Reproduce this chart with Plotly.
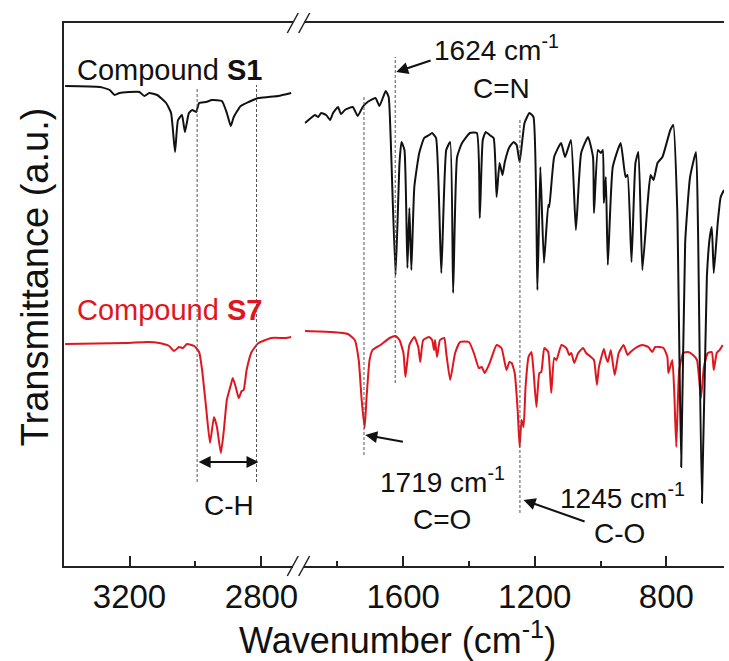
import plotly.graph_objects as go

# ---------------- data (wavenumber cm-1, transmittance a.u. incl. offset) ----------------
s1_left_wn = [3395, 3290, 3260, 3245, 3230, 3170, 3155, 3140, 3116, 3089, 3074, 3062, 3053, 3041,
              3032, 3020, 3010, 2998, 2989, 2968, 2950, 2920, 2905, 2893, 2884, 2863, 2839, 2809,
              2779, 2749, 2710]
s1_left_t = [480, 479, 476, 471, 473, 474, 470, 473, 471, 463, 453, 414, 446, 451,
             434, 453, 456, 454, 463, 464, 466, 465, 453, 440, 449, 460, 464, 468,
             469, 470, 473]

s7_left_wn = [3395, 3209, 3146, 3110, 3080, 3065, 3050, 3038, 3026, 3004, 2989, 2980, 2968, 2956,
              2944, 2935, 2923, 2914, 2905, 2893, 2887, 2878, 2869, 2860, 2854, 2845, 2830, 2809,
              2770, 2728, 2710]
s7_left_t = [222, 223, 224, 223, 220, 215, 219, 218, 222, 220, 214, 196, 159, 123,
             149, 139, 113, 136, 166, 181, 188, 179, 168, 175, 176, 196, 214, 223,
             228, 228, 229]

s1_right_wn = [1898, 1880, 1868, 1858, 1849, 1834, 1822, 1813, 1798, 1789, 1777, 1753, 1738, 1723,
               1708, 1684, 1672, 1653, 1644, 1638, 1623, 1611, 1605, 1596, 1587, 1581, 1575, 1566,
               1551, 1536, 1521, 1512, 1500, 1484, 1469, 1457, 1448, 1436, 1421, 1397, 1376, 1367,
               1358, 1349, 1337, 1325, 1316, 1307, 1298, 1291, 1277, 1264, 1255, 1246, 1231, 1216,
               1204, 1192, 1183, 1172, 1159, 1156, 1141, 1120, 1108, 1090, 1075, 1059, 1038, 1023,
               1020, 1008, 999, 993, 990, 984, 978, 963, 939, 924, 918, 906, 894, 885,
               873, 857, 848, 839, 827, 812, 788, 779, 767, 755, 743, 728, 710, 704,
               692, 677, 668, 662, 656, 644, 635, 625]
s1_right_t = [443, 448, 451, 449, 453, 451, 446, 453, 459, 452, 456, 459, 450, 459,
              464, 468, 460, 475, 469, 429, 291, 403, 424, 416, 298, 358, 296, 379,
              413, 428, 431, 433, 428, 293, 416, 424, 273, 409, 423, 433, 433, 348,
              426, 434, 431, 428, 369, 403, 391, 404, 419, 424, 421, 404, 443, 453,
              449, 276, 399, 303, 361, 359, 409, 423, 409, 426, 336, 413, 429, 409,
              353, 416, 413, 416, 363, 389, 301, 399, 423, 389, 391, 304, 403, 414,
              296, 363, 391, 386, 403, 409, 436, 441, 356, 99, 323, 389, 414, 339,
              63, 289, 329, 339, 293, 343, 369, 376]

s7_right_wn = [1898, 1819, 1768, 1747, 1735, 1726, 1717, 1711, 1702, 1693, 1669, 1641, 1623, 1611,
               1599, 1593, 1581, 1566, 1554, 1548, 1539, 1521, 1512, 1506, 1503, 1497, 1488, 1475,
               1469, 1457, 1442, 1427, 1400, 1385, 1370, 1361, 1352, 1337, 1316, 1301, 1286, 1277,
               1270, 1261, 1252, 1246, 1240, 1234, 1228, 1219, 1210, 1204, 1195, 1186, 1180, 1171,
               1159, 1150, 1141, 1134, 1119, 1104, 1095, 1089, 1080, 1068, 1053, 1044, 1029, 1020,
               1011, 1005, 990, 984, 978, 969, 957, 945, 930, 918, 909, 894, 873, 855,
               843, 834, 809, 797, 794, 782, 776, 770, 761, 749, 734, 719, 707, 695,
               686, 674, 662, 656, 647, 638, 629]
s7_right_t = [235, 234, 232, 226, 206, 166, 138, 169, 206, 216, 221, 228, 230, 226,
              213, 189, 221, 229, 219, 204, 226, 229, 226, 216, 226, 209, 226, 228,
              213, 186, 213, 224, 224, 213, 198, 199, 193, 203, 221, 218, 196, 204,
              203, 193, 156, 119, 146, 139, 179, 209, 214, 196, 159, 193, 194, 218,
              214, 173, 208, 206, 221, 218, 211, 213, 203, 213, 218, 213, 209, 206,
              181, 199, 217, 209, 204, 216, 191, 213, 221, 211, 214, 218, 221, 219,
              214, 219, 218, 209, 193, 206, 173, 119, 196, 213, 214, 211, 206, 168,
              199, 213, 214, 196, 213, 216, 221]

left_ticks = [3200, 2800]
left_minor = [3000]
right_ticks = [1600, 1200, 800]
right_minor = [1800, 1400, 1000]

ch_lines = [2995, 2815]
marker_lines = [1719, 1624, 1245]

RED = "#e0161e"
BLACK = "#111111"
FONT = "Liberation Sans, Arial, sans-serif"

W, H = 729, 661
ML, MR, MT, MB = 64, 0, 23, 95
PW, PH = W - ML - MR, H - MT - MB


def px(x):
    return (x - ML) / PW


def py(y):
    return (H - MB - y) / PH


SM = 0.45
fig = go.Figure()
fig.add_trace(go.Scatter(x=s7_left_wn, y=s7_left_t, xaxis="x", yaxis="y", mode="lines",
                         line=dict(color=RED, width=2, shape="spline", smoothing=SM),
                         showlegend=False, hoverinfo="skip"))
fig.add_trace(go.Scatter(x=s7_right_wn, y=s7_right_t, xaxis="x2", yaxis="y", mode="lines",
                         line=dict(color=RED, width=2, shape="spline", smoothing=SM),
                         showlegend=False, hoverinfo="skip"))
fig.add_trace(go.Scatter(x=s1_left_wn, y=s1_left_t, xaxis="x", yaxis="y", mode="lines",
                         line=dict(color=BLACK, width=2, shape="spline", smoothing=SM),
                         showlegend=False, hoverinfo="skip"))
fig.add_trace(go.Scatter(x=s1_right_wn, y=s1_right_t, xaxis="x2", yaxis="y", mode="lines",
                         line=dict(color=BLACK, width=2, shape="spline", smoothing=SM),
                         showlegend=False, hoverinfo="skip"))

shapes = []
dash = dict(color="#555555", width=1, dash="3px,2px")
shapes.append(dict(type="line", xref="x", yref="y", x0=ch_lines[0], x1=ch_lines[0], y0=84, y1=478, line=dash))
shapes.append(dict(type="line", xref="x", yref="y", x0=ch_lines[1], x1=ch_lines[1], y0=84, y1=481, line=dash))
shapes.append(dict(type="line", xref="x2", yref="y", x0=marker_lines[0], x1=marker_lines[0], y0=111, y1=471, line=dash))
shapes.append(dict(type="line", xref="x2", yref="y", x0=marker_lines[1], x1=marker_lines[1], y0=183, y1=509, line=dash))
shapes.append(dict(type="line", xref="x2", yref="y", x0=marker_lines[2], x1=marker_lines[2], y0=53, y1=446, line=dash))

# axis-break slashes (top and bottom)
brk = dict(color="#222222", width=1.5)
for yb, yt in [(33, 13), (576, 556)]:
    shapes.append(dict(type="line", xref="paper", yref="paper", x0=px(289), y0=py(yb), x1=px(300), y1=py(yt), line=brk))
    shapes.append(dict(type="line", xref="paper", yref="paper", x0=px(300.5), y0=py(yb), x1=px(311.5), y1=py(yt), line=brk))

ann = []
tf = dict(family=FONT, size=28, color="#111111")
ann.append(dict(xref="x", yref="y", x=3365, y=496, xanchor="left", yanchor="middle", showarrow=False,
                text="Compound <b>S1</b>", font=dict(family=FONT, size=29, color="#111111")))
ann.append(dict(xref="x", yref="y", x=3365, y=256, xanchor="left", yanchor="middle", showarrow=False,
                text="Compound <b>S7</b>", font=dict(family=FONT, size=29, color=RED)))
ann.append(dict(xref="x2", yref="y", x=1315, y=518, showarrow=False, text="1624 cm<sup>-1</sup>", font=tf))
ann.append(dict(xref="x2", yref="y", x=1300, y=478, showarrow=False, text="C=N", font=tf))
ann.append(dict(xref="x2", yref="y", x=1480, y=86, showarrow=False, text="1719 cm<sup>-1</sup>", font=tf))
ann.append(dict(xref="x2", yref="y", x=1481, y=47, showarrow=False, text="C=O", font=tf))
ann.append(dict(xref="x2", yref="y", x=932, y=70, showarrow=False, text="1245 cm<sup>-1</sup>", font=tf))
ann.append(dict(xref="x2", yref="y", x=944, y=33, showarrow=False, text="C-O", font=tf))
ann.append(dict(xref="x", yref="y", x=2899, y=61, showarrow=False, text="C-H", font=tf))

arr = dict(showarrow=True, text="", arrowhead=2, arrowsize=1.2, arrowwidth=2, arrowcolor="#111111",
           standoff=0, startstandoff=0)
ann.append(dict(xref="x2", yref="y", axref="x2", ayref="y", x=1621, y=494, ax=1512, ay=506, **arr))
ann.append(dict(xref="x2", yref="y", axref="x2", ayref="y", x=1715, y=131, ax=1596, ay=124, **arr))
ann.append(dict(xref="x2", yref="y", axref="x2", ayref="y", x=1234, y=66, ax=1044, ay=44, **arr))
ann.append(dict(xref="x", yref="y", axref="x", ayref="y", x=2809, y=104, ax=2995, ay=104,
                arrowside="end+start", startarrowhead=2, startarrowsize=1.2, **arr))

ann.append(dict(xref="paper", yref="paper", x=px(35), y=py(277), textangle=-90, showarrow=False,
                text="Transmittance (a.u.)", font=dict(family=FONT, size=38, color="#111111"),
                xanchor="center", yanchor="middle"))
ann.append(dict(xref="paper", yref="paper", x=px(400), y=py(638), showarrow=False,
                text="Wavenumber (cm<sup>-1</sup>)", font=dict(family=FONT, size=36, color="#111111"),
                xanchor="center", yanchor="middle"))

axis_common = dict(showgrid=False, zeroline=False, showline=True, linecolor="#222222", linewidth=2,
                   mirror=True, ticks="inside", ticklen=10, tickwidth=1.5, tickcolor="#222222",
                   tickfont=dict(family=FONT, size=33, color="#111111"))

fig.update_layout(
    width=W, height=H, margin=dict(l=ML, r=MR, t=MT, b=MB),
    plot_bgcolor="white", paper_bgcolor="white",
    xaxis=dict(domain=[px(64), px(295)], range=[3398.5, 3200 - (295 - 130) * 3.008],
               tickvals=left_ticks, anchor="y",
               minor=dict(tickvals=left_minor, ticks="inside", ticklen=5, tickwidth=1.5, tickcolor="#222222"),
               **axis_common),
    xaxis2=dict(domain=[px(306), 1.0], range=[1600 + (405.7 - 306) * 3.016, 1600 - (729 - 405.7) * 3.016],
                tickvals=right_ticks, anchor="y",
                minor=dict(tickvals=right_minor, ticks="inside", ticklen=5, tickwidth=1.5, tickcolor="#222222"),
                **axis_common),
    yaxis=dict(range=[0, PH], showgrid=False, zeroline=False, showline=True, linecolor="#222222",
               linewidth=2, showticklabels=False, ticks=""),
    shapes=shapes, annotations=ann, showlegend=False,
)

fig.write_html("out.html")
